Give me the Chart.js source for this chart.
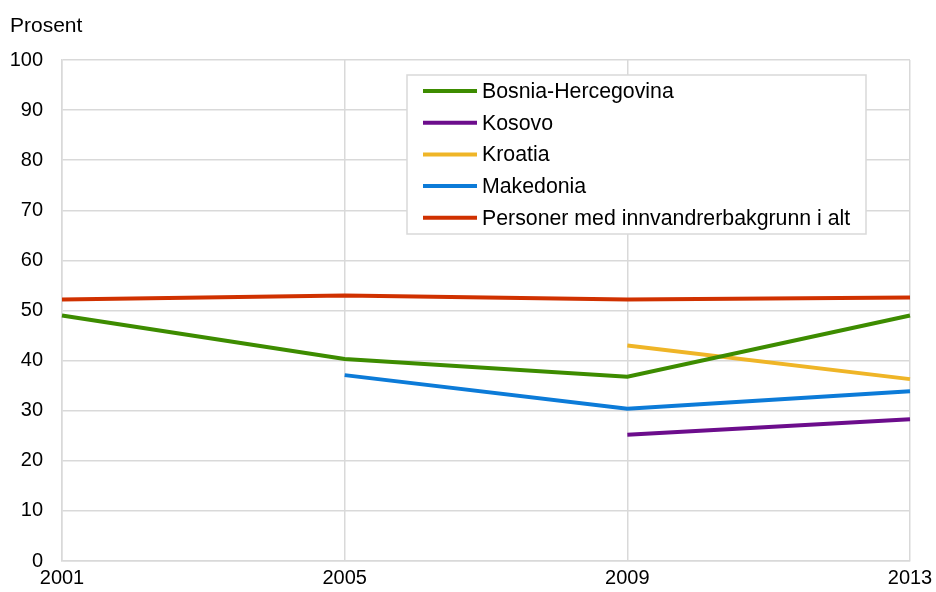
<!DOCTYPE html>
<html>
<head>
<meta charset="utf-8">
<script src="https://cdn.jsdelivr.net/npm/chart.js@4"></script>
<style>
  html, body { margin: 0; padding: 0; background: #fff; }
  #wrap { width: 936px; height: 592px; position: relative; }
</style>
</head>
<body>
<div id="wrap"><canvas id="graf"></canvas></div>
<script>
  // --- Data -----------------------------------------------------------------
  const aar = ['2001', '2005', '2009', '2013'];
  const bosnia = [49.0, 40.3, 36.8, 49.0];
  const kosovo = [null, null, 25.2, 28.3];
  const kroatia = [null, null, 43.0, 36.3];
  const makedonia = [null, 37.1, 30.4, 33.9];
  const iAlt = [52.2, 53.0, 52.2, 52.6];
  const yTicks = [0, 10, 20, 30, 40, 50, 60, 70, 80, 90, 100];

  const FONT = '"Liberation Sans", Arial, sans-serif';
  const GRID = '#d9d9d9';

  function serie(navn, data, farge) {
    return { label: navn, data, borderColor: farge, backgroundColor: farge,
      borderWidth: 4, pointRadius: 0, tension: 0, spanGaps: false };
  }

  // Legend box in the upper middle + "Prosent" label above the y axis
  const egenLegende = {
    id: 'egenLegende',
    afterDraw(chart) {
      const ctx = chart.ctx;
      ctx.save();
      ctx.font = '21px ' + FONT;
      ctx.fillStyle = '#000';
      ctx.textBaseline = 'alphabetic';
      ctx.textAlign = 'left';
      ctx.fillText('Prosent', 10, 32);

      const bx = 407, by = 75, bw = 459, bh = 159;
      ctx.fillStyle = '#fff';
      ctx.fillRect(bx, by, bw, bh);
      ctx.strokeStyle = GRID;
      ctx.lineWidth = 1.5;
      ctx.strokeRect(bx, by, bw, bh);

      ctx.font = '21.3px ' + FONT;
      chart.data.datasets.forEach((ds, i) => {
        const y = 91 + i * 31.7;
        ctx.strokeStyle = ds.borderColor;
        ctx.lineWidth = 4;
        ctx.beginPath();
        ctx.moveTo(423, y);
        ctx.lineTo(477, y);
        ctx.stroke();
        ctx.fillStyle = '#000';
        ctx.textBaseline = 'middle';
        ctx.fillText(ds.label, 482, y + 1);
      });
      ctx.restore();
    }
  };

  new Chart(document.getElementById('graf'), {
    type: 'line',
    data: {
      labels: aar,
      datasets: [
        serie('Bosnia-Hercegovina', bosnia, '#3d8c00'),
        serie('Kosovo', kosovo, '#6c0d8c'),
        serie('Kroatia', kroatia, '#efb527'),
        serie('Makedonia', makedonia, '#0c7bd8'),
        serie('Personer med innvandrerbakgrunn i alt', iAlt, '#d03100'),
      ],
    },
    options: {
      responsive: true, maintainAspectRatio: false, animation: false,
      layout: { padding: { top: 60, right: 26, left: 0, bottom: 0 } },
      plugins: { legend: { display: false }, tooltip: { enabled: false } },
      scales: {
        x: {
          type: 'category', offset: false,
          grid: { color: GRID, lineWidth: 1.5, drawTicks: false },
          border: { color: GRID, width: 1.5 },
          ticks: { color: '#000', font: { family: FONT, size: 20 }, padding: 5, maxRotation: 0, autoSkip: false },
          afterFit(s) { s.height = 31; s.paddingLeft = 0; s.paddingRight = 0; },
        },
        y: {
          min: 0, max: 100,
          afterBuildTicks(s) { s.ticks = yTicks.map(v => ({ value: v })); },
          grid: { color: GRID, lineWidth: 1.5, drawTicks: false },
          border: { color: GRID, width: 1.5 },
          ticks: { color: '#000', font: { family: FONT, size: 20 }, padding: 19 },
          afterFit(s) { s.width = 62; },
        },
      },
    },
    plugins: [egenLegende],
  });
</script>
</body>
</html>
